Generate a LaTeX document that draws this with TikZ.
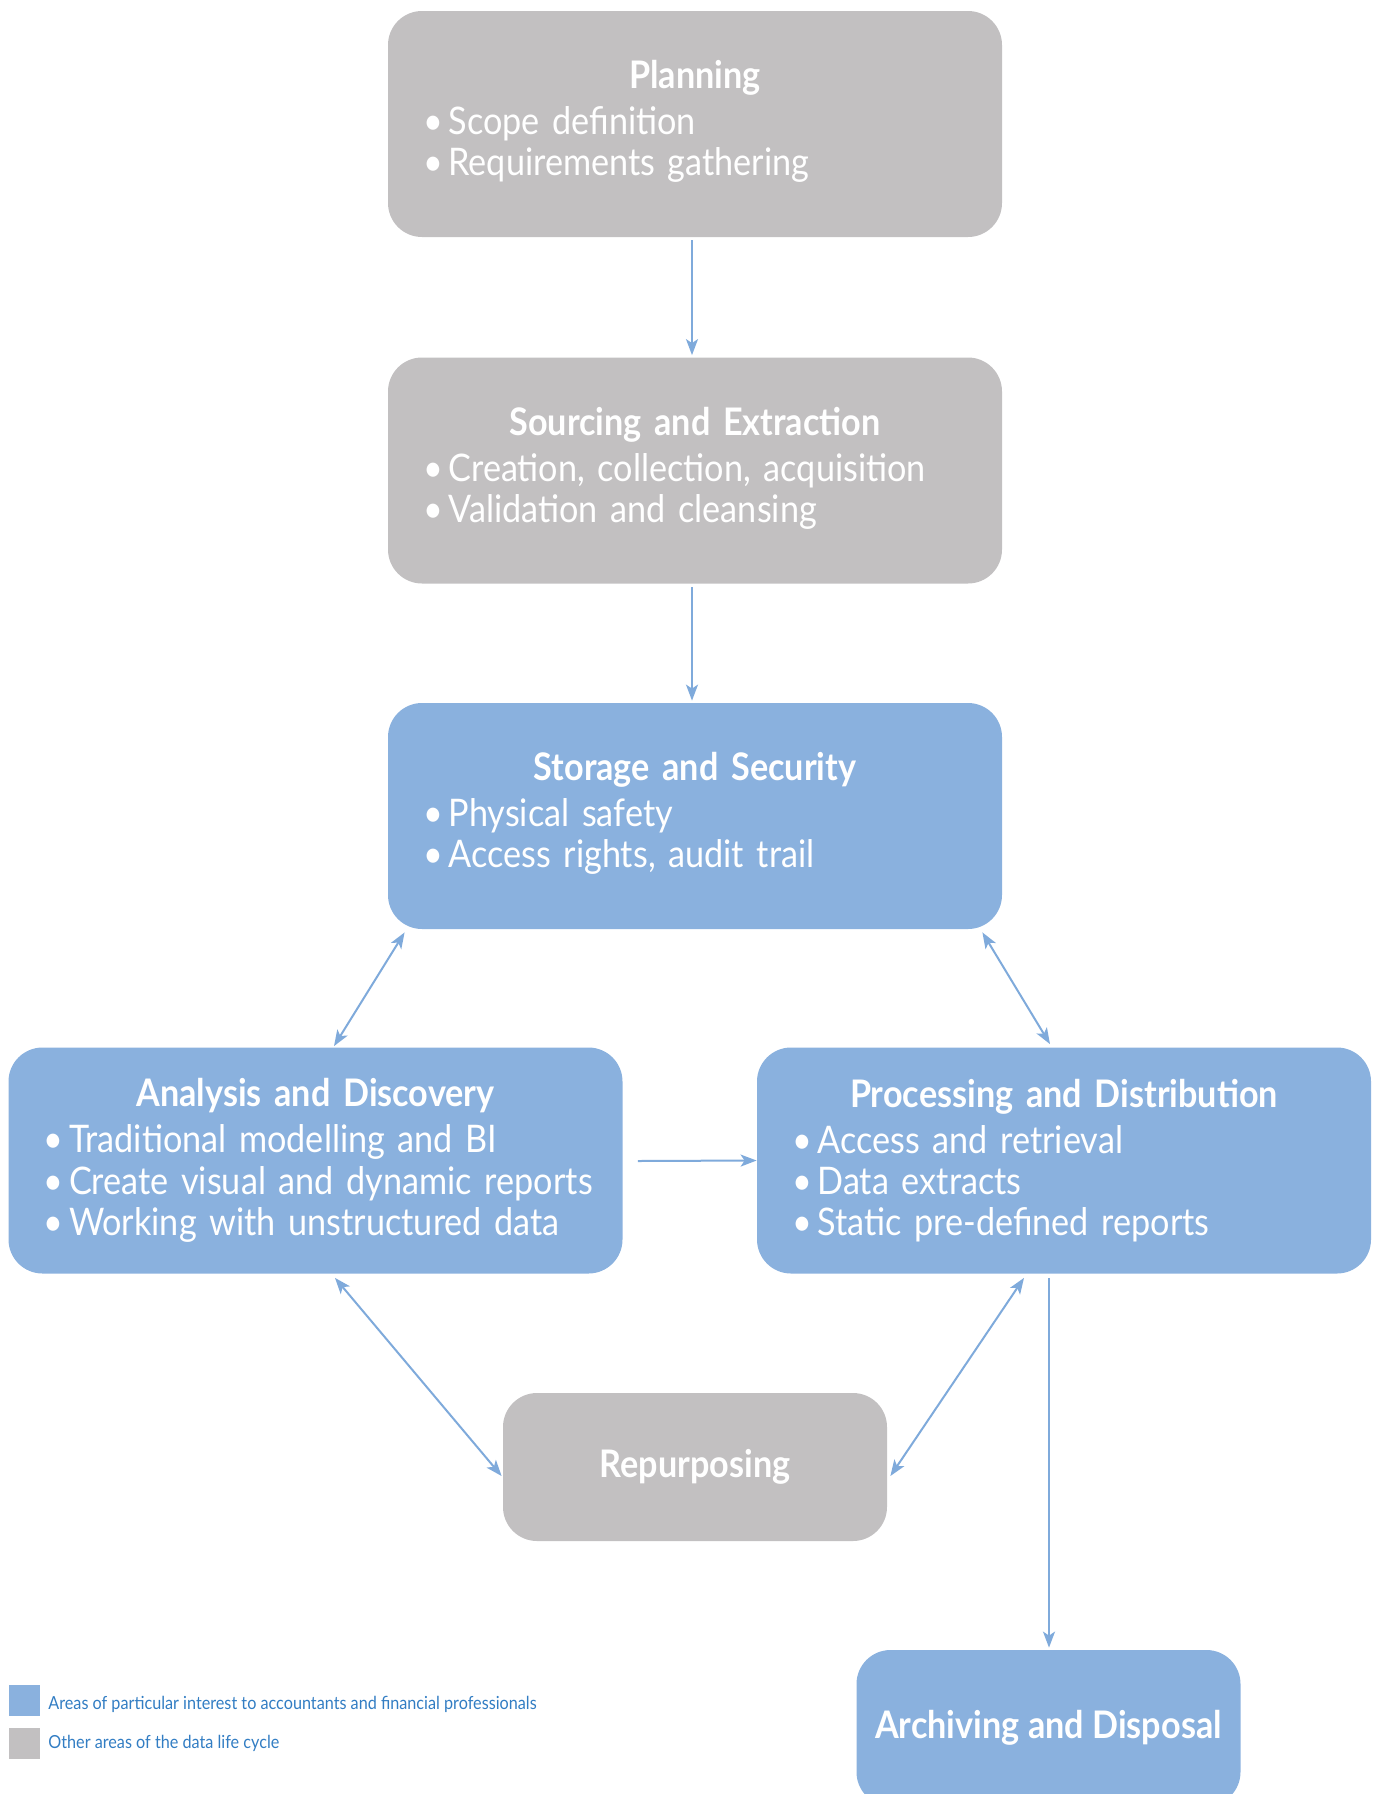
\documentclass[tikz,border=0pt]{standalone}
\usepackage{fontspec}
\setmainfont{Lato}[FakeStretch=0.9]
\usetikzlibrary{arrows.meta,calc}
\definecolor{boxblue}{RGB}{138,177,222}
\definecolor{boxgray}{RGB}{194,192,193}
\definecolor{arrowblue}{RGB}{127,170,219}
\definecolor{legendblue}{RGB}{50,125,195}
\tikzset{
  box/.style={rectangle, rounded corners=17pt, inner sep=0pt, text=white,
    font=\fontsize{19}{20.6}\selectfont, align=left},
  widebox/.style={box, minimum width=307pt, minimum height=113pt, text width=287pt},
  smallbox/.style={box, minimum width=192pt, minimum height=74pt, align=center},
  bluefill/.style={fill=boxblue},
  grayfill/.style={fill=boxgray},
  conn/.style={draw=arrowblue, line width=1pt, -{Stealth[length=8pt,width=6pt,inset=2pt]}},
  biconn/.style={draw=arrowblue, line width=1pt, {Stealth[length=8pt,width=6pt,inset=2pt]}-{Stealth[length=8pt,width=6pt,inset=2pt]}},
  legsq/.style={rectangle, minimum width=15.5pt, minimum height=15.5pt, inner sep=0pt},
  legtext/.style={anchor=base west, inner sep=0pt, text=legendblue, font=\fontsize{9}{11}\selectfont}
}
\newcommand{\bt}{\hspace*{7.5pt}•\hspace{0.15em}}
\newcommand{\ttl}[1]{\makebox[\linewidth][c]{\bfseries #1}\\[2.4pt]}
\newcommand{\tend}{\par\vspace{2.5pt}}
\begin{document}
\begin{tikzpicture}[x=0.5pt,y=-0.5pt]
\useasboundingbox (0,0) rectangle (1381,1794);
\clip (0,0) rectangle (1381,1794);

\node[widebox, grayfill] (plan) at (695,124) {\ttl{Planning}\bt Scope definition\\\bt Requirements gathering\tend};
\node[widebox, grayfill] (src) at (695,470.5) {\ttl{Sourcing and Extraction}\bt Creation, collection, acquisition\\\bt Validation and cleansing\tend};
\node[widebox, bluefill] (stor) at (695,816) {\ttl{Storage and Security}\bt Physical safety\\\bt Access rights, audit trail\tend};
\node[widebox, bluefill] (ana) at (315.5,1160.5) {\ttl{Analysis and Discovery}\bt Traditional modelling and BI\\\bt Create visual and dynamic reports\\\bt Working with unstructured data};
\node[widebox, bluefill] (proc) at (1064,1160.5) {\ttl{Processing and Distribution}\bt Access and retrieval\\\bt Data extracts\\\bt Static pre-defined reports};
\node[smallbox, grayfill] (rep) at (695,1467) {\bfseries Repurposing};
\node[smallbox, bluefill, minimum height=78pt] (arch) at (1048.5,1728) {\bfseries Archiving and Disposal};

\draw[conn] ($(plan.south)+(-3,3)$) -- ($(src.north)+(-3,-2)$);
\draw[conn] ($(src.south)+(-3,3)$) -- ($(stor.north)+(-3,-2)$);
\draw[biconn] ($(stor.south west)+(17,3)$) -- ($(ana.north)+(18.5,-1)$);
\draw[biconn] ($(stor.south east)+(-20,3)$) -- ($(proc.north)+(-14,-3)$);
\draw[conn] ($(ana.east)+(15,0.5)$) -- (proc.west);
\draw[biconn] ($(ana.south)+(19.5,4)$) -- ($(rep.west)+(-1,9)$);
\draw[biconn] ($(proc.south)+(-40,4)$) -- ($(rep.east)+(3,9)$);
\draw[conn] ($(proc.south)+(-15,4)$) -- ($(arch.north)+(0.5,-2)$);

\node[legsq, fill=boxblue] (lega) at (24.5,1700) {};
\node[legsq, fill=boxgray] (legb) at (24.5,1743) {};
\node[legtext] (legat) at (48,1709) {Areas of particular interest to accountants and financial professionals};
\node[legtext] (legbt) at (48,1748) {Other areas of the data life cycle};
\end{tikzpicture}
\end{document}
